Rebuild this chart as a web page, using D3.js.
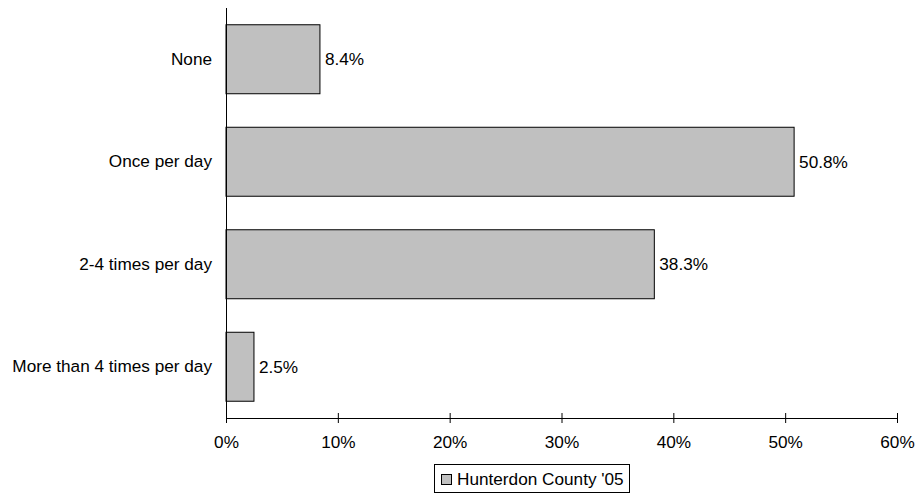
<!DOCTYPE html>
<html><head><meta charset="utf-8">
<script src="https://cdn.jsdelivr.net/npm/d3@7"></script>
<style>body{margin:0;background:#fff;}svg{display:block;font-family:"Liberation Sans",Arial,sans-serif;}</style>
</head><body>
<svg id="c" width="918" height="495"></svg>
<script>
const categories = ["None", "Once per day", "2-4 times per day", "More than 4 times per day"];
const values = [8.4, 50.8, 38.3, 2.5];
const valueLabels = ["8.4%", "50.8%", "38.3%", "2.5%"];
const tickValues = [0, 10, 20, 30, 40, 50, 60];
const seriesName = "Hunterdon County '05";

const svg = d3.select("#c");
const fs = 17.2;
const x = d3.scaleLinear().domain([0, 60]).range([226, 897]);
const y = d3.scaleBand().domain(categories).range([8, 418]).paddingInner(0.327).paddingOuter(0.1635);

// bars
svg.selectAll("rect.bar").data(values).join("rect")
  .attr("class","bar")
  .attr("x", x(0)).attr("y", (d,i)=>y(categories[i]))
  .attr("width", d=>x(d)-x(0)).attr("height", y.bandwidth())
  .attr("fill","#c0c0c0").attr("stroke","#000").attr("stroke-width",1);

// value labels
svg.selectAll("text.val").data(values).join("text")
  .attr("class","val")
  .attr("x", d=>x(d)+5).attr("y",(d,i)=>y(categories[i])+y.bandwidth()/2)
  .attr("dy","0.35em").attr("font-size",fs).attr("fill","#000")
  .text((d,i)=>valueLabels[i]);

// y axis
const yAxis = d3.axisLeft(y).tickSize(0).tickPadding(14);
const gy = svg.append("g").attr("transform",`translate(${x(0)},0)`).call(yAxis);
gy.select(".domain").attr("stroke","#000").attr("d",`M0.5,8V418`);
gy.selectAll("text").attr("font-size",fs).attr("font-family","Liberation Sans, Arial, sans-serif").attr("fill","#000");

// x axis
const xAxis = d3.axisBottom(x).tickValues(tickValues).tickFormat(d=>d+"%").tickSize(5).tickPadding(13);
const gx = svg.append("g").attr("transform",`translate(0,418)`).call(xAxis);
gx.select(".domain").attr("stroke","#000").attr("d",`M${x(0)},0.5H${x(60)}`);
gx.selectAll(".tick line").attr("stroke","#000").attr("y1",-5).attr("y2",5);
gx.selectAll("text").attr("font-size",fs).attr("font-family","Liberation Sans, Arial, sans-serif").attr("fill","#000");

// legend
const lg = svg.append("g");
lg.append("rect").attr("x",434.5).attr("y",464.5).attr("width",195).attr("height",28)
  .attr("fill","#fff").attr("stroke","#000");
lg.append("rect").attr("x",441.5).attr("y",474.5).attr("width",10).attr("height",10)
  .attr("fill","#c0c0c0").attr("stroke","#000");
lg.append("text").attr("x",457).attr("y",479).attr("dy","0.35em").attr("font-size",fs).attr("fill","#000").text(seriesName);
</script>
</body></html>
